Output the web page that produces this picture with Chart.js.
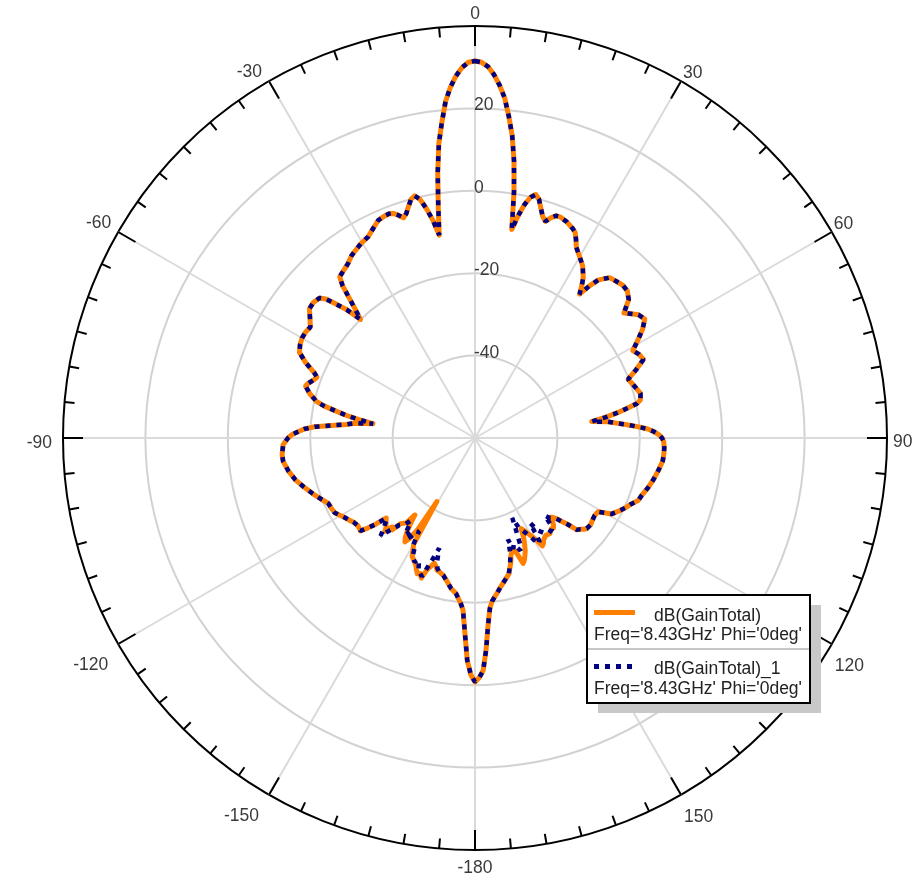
<!DOCTYPE html>
<html>
<head>
<meta charset="utf-8">
<script src="https://cdn.jsdelivr.net/npm/chart.js@4.4.0/dist/chart.umd.min.js"></script>
<style>
  html, body { margin: 0; padding: 0; background: #fff; }
  canvas { display: block; }
</style>
</head>
<body>
<canvas id="pattern" width="914" height="882"></canvas>
<script>
// theta in degrees (0 = top, clockwise), sampled where the trace bends
const angles = [
  -179,-178,-177,-176,-175,-173,-171,-169,-167,-165,
  -164,-163,-162,-161,-160,-159,-158,-157,-156,-155,
  -154,-152,-151,-150,-149,-148,-147,-146,-145,-144,
  -143,-142,-141,-139,-138,-137,-136,-135,-134,-133,
  -132,-131,-130,-129,-127,-125,-123,-121,-118,-116,
  -114,-112,-109,-106,-103,-100,-97,-95,-92,-90,
  -89,-88,-87,-86,-85,-84,-83,-82,-81,-80,
  -79,-78,-77,-75,-73,-72,-70,-69,-68,-66,
  -64,-62,-60,-58,-56,-54,-52,-50,-48,-47,
  -46,-45,-44,-43,-42,-41,-40,-38,-36,-34,
  -31,-30,-28,-26,-24,-23,-22,-21,-20,-19,
  -18,-17,-16,-15,-14,-13,-12,-11,-10,-9,
  -8,-7,-6,-5,-4,-3,-2,-1,0,1,
  2,3,4,5,6,7,8,9,10,11,
  12,13,14,15,16,17,18,19,20,21,
  23,25,26,27,28,30,32,34,35,36,
  37,38,40,42,44,46,48,50,51,53,
  55,57,59,61,63,65,67,69,71,73,
  75,77,78,79,80,81,82,83,84,85,
  86,87,88,89,90,91,93,95,97,100,
  103,106,109,111,113,115,117,119,121,123,
  125,127,129,130,131,132,133,134,135,136,
  137,138,139,140,142,144,146,147,148,149,
  150,151,152,153,154,155,156,157,158,159,
  160,161,162,163,164,166,168,170,172,174,
  175,176,177,178,179,180
];

// dB(GainTotal)
const gainTotal = [
  -2.5,-6.0,-12.8,-18.2,-19.8,-22.0,-23.0,-24.5,-25.8,-26.4,
  -26.6,-27.5,-28.1,-27.0,-26.0,-23.6,-24.5,-24.2,-25.0,-26.0,
  -26.5,-27.5,-29.0,-30.2,-42.0,-34.0,-31.0,-29.6,-30.5,-32.0,
  -34.0,-36.3,-33.5,-32.4,-30.0,-30.5,-28.5,-29.5,-30.0,-30.5,
  -31.0,-28.1,-26.0,-24.2,-24.5,-24.2,-23.5,-22.8,-21.4,-21.2,
  -21.0,-20.0,-18.4,-16.8,-15.2,-14.0,-13.1,-13.0,-13.4,-14.6,
  -15.5,-17.0,-18.5,-21.0,-25.0,-28.5,-30.5,-35.0,-31.5,-28.2,
  -25.5,-22.5,-20.5,-18.5,-17.0,-17.3,-18.5,-18.9,-18.0,-15.0,
  -12.6,-11.9,-11.5,-11.5,-11.8,-10.5,-9.0,-8.8,-9.2,-10.5,
  -13.3,-16.0,-20.0,-17.5,-14.5,-11.0,-8.9,-8.3,-7.6,-6.5,
  -5.5,-5.2,-4.7,-3.5,-2.2,-2.0,-1.8,-1.7,-2.0,-2.8,
  -3.8,-3.0,-1.5,0.0,0.6,-0.5,-3.0,-6.0,-10.0,-3.0,
  5.0,12.0,17.0,22.0,25.4,28.0,30.0,31.2,31.5,31.2,
  30.2,28.3,25.8,22.8,18.5,14.0,8.0,0.5,-8.6,-5.0,
  -2.0,0.0,0.9,0.0,-2.0,-3.8,-4.7,-3.5,-2.6,-2.5,
  -3.0,-3.9,-4.5,-6.0,-7.6,-9.2,-10.7,-13.0,-14.8,-16.8,
  -13.7,-11.3,-9.2,-8.8,-8.4,-8.6,-9.8,-12.8,-12.0,-10.3,
  -9.7,-11.5,-13.9,-16.2,-15.3,-14.9,-17.5,-20.2,-19.6,-19.0,
  -18.4,-18.8,-19.8,-22.5,-25.0,-28.0,-31.4,-27.5,-25.5,-23.0,
  -20.5,-18.0,-16.5,-15.3,-14.6,-14.2,-14.0,-14.0,-14.1,-14.8,
  -15.5,-16.3,-17.2,-17.6,-18.9,-19.8,-20.9,-22.0,-25.2,-25.4,
  -25.2,-24.9,-25.1,-25.5,-26.2,-26.7,-29.3,-31.0,-32.5,-33.3,
  -32.5,-31.5,-31.0,-31.2,-30.5,-30.8,-30.2,-29.5,-29.1,-31.1,
  -32.5,-33.5,-34.5,-35.3,-33.0,-31.5,-30.0,-29.0,-28.0,-27.4,
  -30.0,-31.7,-31.0,-30.2,-28.5,-26.0,-24.8,-23.5,-21.9,-20.2,
  -18.5,-14.5,-8.5,-3.5,-1.8,-0.8
];

// dB(GainTotal)_1
const gainTotal1 = [
  -2.5,-6.0,-12.8,-18.2,-19.8,-22.0,-23.0,-24.5,-25.8,-26.4,
  -27.0,-28.5,-31.9,-29.5,-27.0,-24.0,-24.5,-24.8,-26.5,-27.5,
  -26.5,-28.0,-30.0,-30.0,-33.6,-33.0,-31.5,-30.5,-32.0,-31.0,
  -33.5,-34.5,-33.0,-32.0,-30.5,-29.0,-27.0,-28.5,-29.5,-30.5,
  -31.0,-28.1,-26.0,-24.2,-24.5,-24.2,-23.5,-22.8,-21.4,-21.2,
  -21.0,-20.0,-18.4,-16.8,-15.2,-14.0,-13.1,-13.0,-13.4,-14.6,
  -15.5,-17.0,-18.5,-21.0,-25.0,-28.5,-30.5,-35.0,-31.5,-28.2,
  -25.5,-22.5,-20.5,-18.5,-17.0,-17.3,-18.5,-18.9,-18.0,-15.0,
  -12.6,-11.9,-11.5,-11.5,-11.8,-10.5,-9.0,-8.8,-9.2,-10.5,
  -13.3,-16.0,-20.0,-17.5,-14.5,-11.0,-8.9,-8.3,-7.6,-6.5,
  -5.5,-5.2,-4.7,-3.5,-2.2,-2.0,-1.8,-1.7,-2.0,-2.8,
  -3.8,-3.0,-1.5,0.0,0.6,-0.5,-3.0,-6.0,-10.0,-3.0,
  5.0,12.0,17.0,22.0,25.4,28.0,30.0,31.2,31.5,31.2,
  30.2,28.3,25.8,22.8,18.5,14.0,8.0,0.5,-8.6,-5.0,
  -2.0,0.0,0.9,0.0,-2.0,-3.8,-4.7,-3.5,-2.6,-2.5,
  -3.0,-3.9,-4.5,-6.0,-7.6,-9.2,-10.7,-13.0,-14.8,-16.8,
  -13.7,-11.3,-9.2,-8.8,-8.4,-8.6,-9.8,-12.8,-12.0,-10.3,
  -9.7,-11.5,-13.9,-16.2,-15.3,-14.9,-17.5,-20.2,-19.6,-19.0,
  -18.4,-18.8,-19.8,-22.5,-25.0,-28.0,-31.4,-27.5,-25.5,-23.0,
  -20.5,-18.0,-16.5,-15.3,-14.6,-14.2,-14.0,-14.0,-14.1,-14.8,
  -15.5,-16.3,-17.2,-17.6,-18.9,-19.8,-20.9,-22.0,-25.2,-25.4,
  -25.2,-24.9,-25.1,-25.5,-26.2,-26.7,-29.3,-31.0,-32.5,-33.0,
  -33.5,-34.7,-31.5,-31.0,-30.8,-31.5,-33.0,-35.4,-30.5,-30.0,
  -31.5,-33.0,-34.0,-35.0,-35.7,-38.6,-35.5,-32.0,-30.5,-31.5,
  -32.5,-31.5,-34.1,-30.5,-29.0,-26.0,-24.8,-23.5,-21.9,-20.2,
  -18.5,-14.5,-8.5,-3.5,-1.8,-0.8
];

const ringTicks = [-40, -20, 0, 20];
const angleTicks = [0, 30, 60, 90, 120, 150, -180, -150, -120, -90, -60, -30];
const seriesNames = ['dB(GainTotal)', 'dB(GainTotal)_1'];
const legendNote = "Freq='8.43GHz' Phi='0deg'";

const FONT = '17.5px "Liberation Sans", Arial, sans-serif';

// one category per degree, samples dropped onto their degree
const labels = [];
for (let d = 0; d < 360; d++) labels.push(d);

function toSeries(values) {
    const out = new Array(360).fill(null);
    angles.forEach((a, i) => { out[(a + 360) % 360] = values[i]; });
    return out;
}

const polarDecor = {
    id: 'polarDecor',
    beforeDatasetsDraw(chart) {
        const r = chart.scales.r;
        const ctx = chart.ctx;
        const R = r.drawingArea;
        ctx.save();

        // rim ticks every 5 deg, long ones every 30
        ctx.strokeStyle = '#000';
        ctx.lineWidth = 2;
        for (let d = 0; d < 360; d += 5) {
            const len = d % 30 === 0 ? 20 : 10;
            const p1 = r.getPointPosition(d, R);
            const p2 = r.getPointPosition(d, R - len);
            ctx.beginPath();
            ctx.moveTo(p1.x, p1.y);
            ctx.lineTo(p2.x, p2.y);
            ctx.stroke();
        }

        ctx.fillStyle = '#3a3a3a';
        ctx.font = FONT;
        ctx.textBaseline = 'alphabetic';

        ctx.textAlign = 'left';
        ringTicks.forEach(v => {
            const dist = r.getDistanceFromCenterForValue(v);
            ctx.fillText(String(v), r.xCenter - 1, r.yCenter - dist + 2);
        });

        angleTicks.forEach(a => {
            const p = r.getPointPosition((a + 360) % 360, R);
            let x = p.x, y = p.y;
            if (a === 0) { ctx.textAlign = 'center'; y -= 7; }
            else if (a === -180) { ctx.textAlign = 'center'; y += 23; }
            else if (a === 90) { ctx.textAlign = 'left'; x += 6; y += 9; }
            else if (a === -90) { ctx.textAlign = 'right'; x -= 11; y += 10; }
            else if (a > 0 && a < 90) { ctx.textAlign = 'left'; x += 2; y -= 3; }
            else if (a > 90) { ctx.textAlign = 'left'; x += 3; y += 27; }
            else if (a < 0 && a > -90) { ctx.textAlign = 'right'; x -= 7; y -= 4; }
            else { ctx.textAlign = 'right'; x -= 10; y += 26; }
            ctx.fillText(String(a), x, y);
        });
        ctx.restore();
    },
    afterDraw(chart) {
        const ctx = chart.ctx;
        ctx.save();
        // legend box with drop shadow
        ctx.fillStyle = '#c8c8c8';
        ctx.fillRect(598, 605, 223, 108);
        ctx.fillStyle = '#fff';
        ctx.fillRect(587, 595, 223, 108);
        ctx.strokeStyle = '#000';
        ctx.lineWidth = 2;
        ctx.strokeRect(587, 595, 223, 108);
        ctx.strokeStyle = '#c8c8c8';
        ctx.beginPath();
        ctx.moveTo(588, 649);
        ctx.lineTo(809, 649);
        ctx.stroke();

        ctx.lineWidth = 5;
        ctx.strokeStyle = '#ff8000';
        ctx.beginPath();
        ctx.moveTo(594, 612.5);
        ctx.lineTo(635, 612.5);
        ctx.stroke();

        ctx.strokeStyle = '#000080';
        ctx.setLineDash([5, 6]);
        ctx.beginPath();
        ctx.moveTo(594, 666.5);
        ctx.lineTo(634, 666.5);
        ctx.stroke();
        ctx.setLineDash([]);

        ctx.fillStyle = '#222';
        ctx.font = FONT;
        ctx.textAlign = 'left';
        ctx.textBaseline = 'alphabetic';
        ctx.fillText(seriesNames[0], 654, 621);
        ctx.fillText(legendNote, 594, 640);
        ctx.fillText(seriesNames[1], 654, 674);
        ctx.fillText(legendNote, 594, 694);
        ctx.restore();
    }
};

new Chart(document.getElementById('pattern'), {
    type: 'radar',
    data: {
        labels: labels,
        datasets: [
            {
                label: seriesNames[1],
                data: toSeries(gainTotal1),
                borderColor: '#000080',
                borderWidth: 4.5,
                borderDash: [5, 6],
                borderJoinStyle: 'bevel',
                pointRadius: 0,
                fill: false,
                spanGaps: true,
                tension: 0,
                order: 1
            },
            {
                label: seriesNames[0],
                data: toSeries(gainTotal),
                borderColor: '#ff8000',
                borderWidth: 5,
                borderJoinStyle: 'round',
                pointRadius: 0,
                fill: false,
                spanGaps: true,
                tension: 0,
                order: 2
            }
        ]
    },
    options: {
        responsive: false,
        animation: false,
        layout: { padding: { left: 63, right: 27, top: 26, bottom: 32 } },
        plugins: {
            legend: { display: false },
            tooltip: { enabled: false }
        },
        scales: {
            r: {
                min: -60,
                max: 40,
                startAngle: 0,
                ticks: { display: false, stepSize: 20 },
                pointLabels: { display: false },
                grid: {
                    circular: true,
                    color: c => (c.tick && c.tick.value === 40) ? '#000' : '#d2d2d2',
                    lineWidth: 2
                },
                angleLines: {
                    color: '#dadada',
                    lineWidth: c => c.index % 30 === 0 ? 2 : 0
                }
            }
        }
    },
    plugins: [polarDecor]
});
</script>
</body>
</html>
